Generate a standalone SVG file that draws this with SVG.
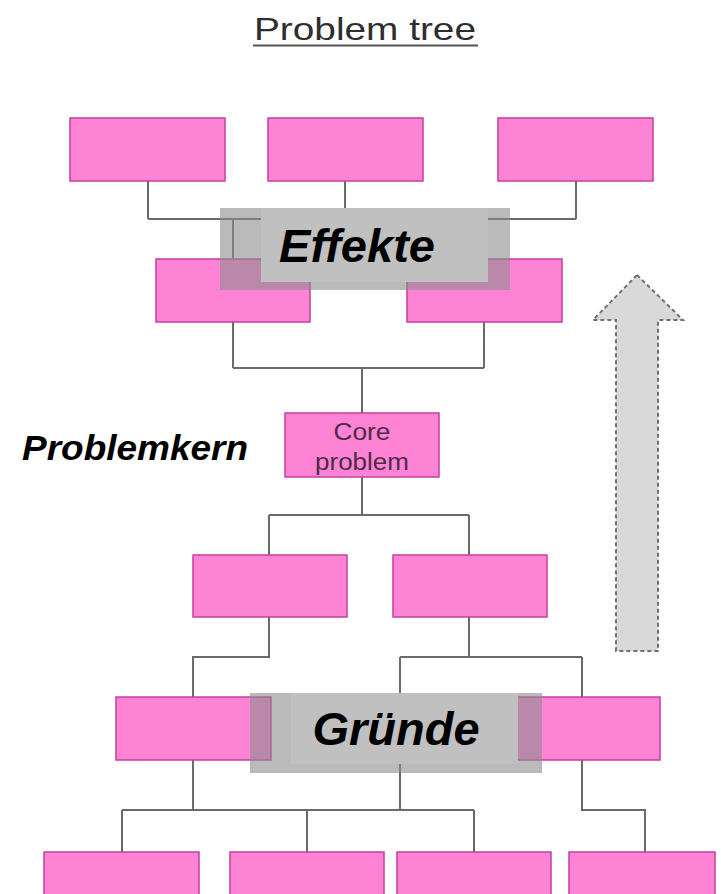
<svg xmlns="http://www.w3.org/2000/svg" width="721" height="894" viewBox="0 0 721 894">
<style>
.box{fill:#ff83d5;stroke:#c53f9e;stroke-width:1.5}
.con{fill:none;stroke:#6a6a6a;stroke-width:2}
.semi{fill:#8c8c8c;fill-opacity:0.6}
.solid{fill:#c0c0c0}
.big{font-family:"Liberation Sans",Arial,sans-serif;font-weight:bold;font-style:italic;fill:#000}
.small{font-family:"Liberation Sans",Arial,sans-serif;font-size:23px;fill:#4f2a47}
</style>
<rect width="721" height="894" fill="#ffffff"/>
<g id="title">
<text x="254" y="40" font-family="Liberation Sans, Arial, sans-serif" font-size="32" fill="#2e2e2e" textLength="222" lengthAdjust="spacingAndGlyphs">Problem tree</text>
<line x1="253" y1="45.5" x2="478" y2="45.5" stroke="#555" stroke-width="2"/>
</g>
<g id="connectors">
<path class="con" d="M148,181V219M345,181V219M576,181V219M148,219H576M233,219V259M484,219V259"/>
<path class="con" d="M233,322V368M484,322V368M233,368H484M362,368V413"/>
<path class="con" d="M362,477V515M269,515H469M269,515V555M469,515V555"/>
<path class="con" d="M269,617V657H193V697M469,617V657M400,657H582M400,657V810M582,657V697"/>
<path class="con" d="M193,760V810M122,810H474M122,810V852M307,810V852M474,810V852M582,760V810H645V852"/>
</g>
<g id="effect1"><rect class="box" x="70" y="118" width="155" height="63"/></g>
<g id="effect2"><rect class="box" x="268" y="118" width="155" height="63"/></g>
<g id="effect3"><rect class="box" x="498" y="118" width="155" height="63"/></g>
<g id="effect4"><rect class="box" x="156" y="259" width="154" height="63"/></g>
<g id="effect5"><rect class="box" x="407" y="259" width="155" height="63"/></g>
<g id="core">
<rect class="box" x="285" y="413" width="154" height="64"/>
<text class="small" x="362" y="440" text-anchor="middle" textLength="57" lengthAdjust="spacingAndGlyphs">Core</text>
<text class="small" x="362" y="470" text-anchor="middle" textLength="94" lengthAdjust="spacingAndGlyphs">problem</text>
</g>
<g id="cause1"><rect class="box" x="193" y="555" width="154" height="62"/></g>
<g id="cause2"><rect class="box" x="393" y="555" width="154" height="62"/></g>
<g id="cause3"><rect class="box" x="116" y="697" width="155" height="63"/></g>
<g id="cause4"><rect class="box" x="505" y="697" width="155" height="63"/></g>
<g id="cause5"><rect class="box" x="44" y="852" width="155" height="60"/></g>
<g id="cause6"><rect class="box" x="230" y="852" width="154" height="60"/></g>
<g id="cause7"><rect class="box" x="397" y="852" width="154" height="60"/></g>
<g id="cause8"><rect class="box" x="569" y="852" width="146" height="60"/></g>
<g id="label-effekte">
<rect class="semi" x="220" y="208" width="290" height="82"/>
<rect class="solid" x="261" y="208" width="227" height="74"/>
<text class="big" x="357" y="262" text-anchor="middle" font-size="47">Effekte</text>
</g>
<g id="label-problemkern">
<text class="big" x="22" y="460" font-size="35" textLength="226" lengthAdjust="spacingAndGlyphs">Problemkern</text>
</g>
<g id="label-gruende">
<rect class="semi" x="250" y="693" width="292" height="80"/>
<rect class="solid" x="291" y="693" width="227" height="71"/>
<text class="big" x="396" y="745" text-anchor="middle" font-size="47">Gründe</text>
</g>
<g id="arrow">
<polygon points="637,275 683,320 658,320 658,651 616,651 616,320 593,320" fill="#d9d9d9" stroke="#707070" stroke-width="2" stroke-dasharray="4,3"/>
</g>
</svg>
